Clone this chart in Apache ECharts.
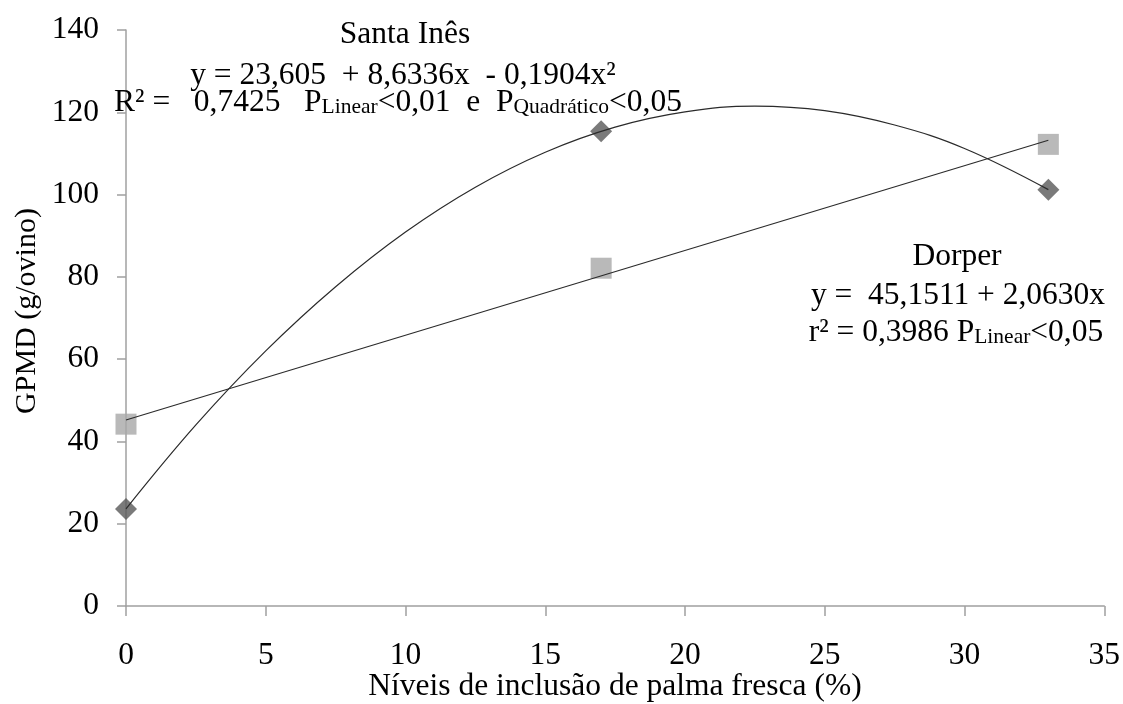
<!DOCTYPE html>
<html>
<head>
<meta charset="utf-8">
<script src="https://cdn.jsdelivr.net/npm/echarts@6/dist/echarts.min.js"></script>
<style>html,body{margin:0;padding:0;background:#fff;}#c{width:1123px;height:704px;}</style>
</head>
<body>
<div id="c"></div>
<script>
// Observed points
const santaInesX = [0, 17, 33];
const santaInesY = [23.6, 115.4, 101.2];
const dorperX = [0, 17, 33];
const dorperY = [44.2, 82.1, 112.2];
// Trend curves
const santaTrendX = [0, 2.5, 5, 7.5, 10, 12.5, 15, 17.5, 20, 22.5, 25, 27.5, 30, 33];
const santaTrendY = [23.6, 44.0, 62.0, 77.6, 90.9, 101.8, 110.3, 116.4, 120.1, 121.5, 120.4, 116.9, 111.2, 101.2];
const dorperTrendX = [0, 33];
const dorperTrendY = [45.2, 113.2];
// Axes
const xMin = 0, xMax = 35, xStep = 5;
const yMin = 0, yMax = 140, yStep = 20;
// Texts
const xTitle = 'Níveis de inclusão de palma fresca (%)';
const yTitle = 'GPMD (g/ovino)';
const siTitle = 'Santa Inês';
const siEq = 'y = 23,605  + 8,6336x  - 0,1904x²';
const siStat = '{n|R² =   0,7425   P}{s|Linear}{n|<0,01  e  P}{s|Quadrático}{n|<0,05}';
const dpTitle = 'Dorper';
const dpEq = 'y =  45,1511 + 2,0630x';
const dpStat = '{n|r² = 0,3986 P}{s|Linear}{n|<0,05}';

const FF = '"Liberation Serif", "Times New Roman", serif';
const FS = 31.5;
const pairs = (xs, ys) => xs.map((x, i) => [x, ys[i]]);
const rich = {
  n: { fontSize: FS, fontFamily: FF, lineHeight: 31, fill: '#000' },
  s: { fontSize: 21.5, fontFamily: FF, lineHeight: 8, verticalAlign: 'bottom', fill: '#000' }
};
function txt(text, x, y, extra, size) {
  return Object.assign({
    type: 'text', x: x, y: y, z: 100,
    style: { text: text, fontSize: size || FS, fontFamily: FF, fill: '#000', align: 'center', verticalAlign: 'middle' }
  }, extra || {});
}
function richTxt(text, x, y) {
  return { type: 'text', x: x, y: y, z: 100,
    style: { text: text, rich: rich, fontSize: FS, fontFamily: FF, fill: '#000', align: 'center', verticalAlign: 'middle' } };
}

const chart = echarts.init(document.getElementById('c'), null, { renderer: 'canvas' });
chart.setOption({
  animation: false,
  backgroundColor: '#fff',
  grid: { left: 126, right: 15, top: 30, bottom: 98, containLabel: false },
  xAxis: {
    type: 'value', min: xMin, max: xMax, interval: xStep,
    splitLine: { show: false },
    axisLine: { show: true, onZero: false, lineStyle: { color: '#a0a0a0', width: 1.5 } },
    axisTick: { show: true, inside: false, length: 10, lineStyle: { color: '#a0a0a0', width: 1.5 } },
    axisLabel: { margin: 34, fontSize: FS, fontFamily: FF, color: '#000' }
  },
  yAxis: {
    type: 'value', min: yMin, max: yMax, interval: yStep,
    splitLine: { show: false },
    axisLine: { show: true, lineStyle: { color: '#a0a0a0', width: 1.5 } },
    axisTick: { show: true, inside: false, length: 9, lineStyle: { color: '#a0a0a0', width: 1.5 } },
    axisLabel: { margin: 27, fontSize: FS, fontFamily: FF, color: '#000' }
  },
  series: [
    { type: 'scatter', name: 'Santa Inês', data: pairs(santaInesX, santaInesY), symbol: 'diamond', symbolSize: [22, 22],
      itemStyle: { color: '#595959' }, z: 2 },
    { type: 'scatter', name: 'Dorper', data: pairs(dorperX, dorperY), symbol: 'rect', symbolSize: [21, 21],
      itemStyle: { color: '#a8a8a8' }, z: 2 },
    { type: 'line', data: pairs(santaTrendX, santaTrendY), smooth: 0.4, showSymbol: false, symbol: 'none',
      lineStyle: { color: '#2b2b2b', width: 1.2 }, z: 5 },
    { type: 'line', data: pairs(dorperTrendX, dorperTrendY), showSymbol: false, symbol: 'none',
      lineStyle: { color: '#2b2b2b', width: 1.2 }, z: 5 }
  ],
  graphic: [
    txt(xTitle, 615, 687),
    txt(yTitle, 27, 311, { rotation: Math.PI / 2 }, 30),
    txt(siTitle, 405, 35),
    txt(siEq, 403, 76),
    richTxt(siStat, 398, 103),
    txt(dpTitle, 957, 257),
    txt(dpEq, 958, 296),
    richTxt(dpStat, 956, 333)
  ]
});
</script>
</body>
</html>
